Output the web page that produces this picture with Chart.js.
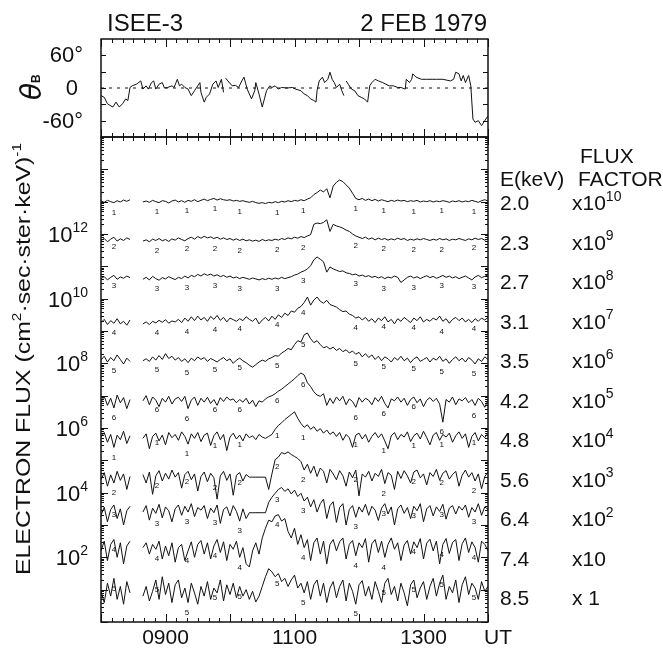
<!DOCTYPE html>
<html>
<head>
<meta charset="utf-8">
<title>ISEE-3 2 FEB 1979</title>
<script src="https://cdn.jsdelivr.net/npm/chart.js@4.4.0/dist/chart.umd.min.js"></script>
<style>
  html, body { margin: 0; padding: 0; background: #fff; }
  #wrap { position: relative; width: 663px; height: 650px; }
  #wrap canvas { position: absolute; left: 0; top: 0; }
</style>
</head>
<body>
<div id="wrap">
  <canvas id="thetaChart" width="663" height="650"></canvas>
  <canvas id="fluxChart" width="663" height="650"></canvas>
</div>
<script>
// time is in minutes after 0800 UT
const hourLabels = ['0900', '1100', '1300'];
const hourLabelMinutes = [60, 180, 300];

// field angle theta_B (deg)
const thetaMinutes = [0,3,6,11,14,17,20,23,25,27, 29,33,37,39,42,44,47,49,51,54,
  57,59,62,66,68,71,73,75,78,81, 84,87,90,92,93,96,98,101,104,107,
  109,112,114,115,116,118,122,125,128,131, 133,136,138,140,143,144,147,150,152,154,
  157,159,162,165,168,173,178,181,186,189, 192,195,198,200,201,203,206,208,211,213,
  215,217,219,222,224,226,227,228,230,233, 236,239,242,245,248,250,252,255,258,262,
  265,268,272,276,279,283,284,287,289,290, 293,298,303,308,312,318,325,328,330,333,
  335,337,339,342,344,346,348,351,354,358, 360];
const thetaValues = [-14,-17,-29,-35,-26,-35,-29,-20,-23,1, 4,7,13,-2,4,-2,10,13,-2,7,
  10,0,1,4,1,16,4,7,1,-2, -14,-5,4,10,-8,-26,-17,-11,7,13,
  1,16,-8,null,18,13,4,5,1,13, 20,-2,-11,-20,-5,10,-11,-35,-20,-5,
  4,1,4,-2,1,0,1,-2,-5,-11, -14,-20,-23,-26,-5,13,20,10,16,29,
  16,10,1,7,-5,-14,null,13,7,-2, -5,-14,-17,-20,-26,4,10,16,13,10,
  7,4,4,1,1,-2,16,10,16,26, 20,16,16,16,16,16,13,16,29,26,
  13,23,10,23,4,-57,-63,-60,-69,-57, -51];
const thetaTicks = [-60, 0, 60];

// electron flux, log10 of (flux x flux factor)
const fluxMinutes = [0,3,6,9,12,15,18,21,24,27,30,33,36,39,42,45,48,51,54,57,60,63,66,69,72,75,78,81,84,87,
  90,93,96,99,102,105,108,111,114,117,120,123,126,129,132,135,138,141,144,147,150,153,156,159,162,165,168,171,174,177,
  180,183,186,189,192,195,198,201,204,207,210,213,216,219,222,225,228,231,234,237,240,243,246,249,252,255,258,261,264,267,
  270,273,276,279,282,285,288,291,294,297,300,303,306,309,312,315,318,321,324,327,330,333,336,339,342,345,348,351,354,357,360];

const flux20 = [13.02,12.98,13.04,13.00,12.97,13.03,12.99,13.05,13.01,13.06, null,null,null,
  12.99,13.02,12.98,13.04,13.00,12.97,13.03,13.01,12.96,13.02,
  13.05,12.99,13.03,12.98,13.04,13.01,13.06,13.00,13.04,13.08,
  13.03,13.07,13.10,13.05,13.09,13.06,13.04,13.06,13.02,13.04,
  13.01,13.03,13.00,12.98,13.01,12.97,12.95,12.97,12.94,12.98,
  12.96,13.00,12.97,13.01,12.99,13.03,13.00,13.04,13.02,13.06,
  13.03,13.08,13.12,13.22,13.28,13.36,13.30,13.40,13.12,13.48,
  13.60,13.67,13.62,13.52,13.42,13.26,13.10,13.06,13.10,13.04,
  13.08,13.03,13.07,13.02,13.06,13.03,13.00,13.04,13.01,13.05,
  13.02,13.04,13.00,13.03,13.01,13.04,12.99,13.02,13.00,13.03,
  12.99,13.02,13.00,13.03,13.01,12.98,13.02,13.00,13.03,12.99,
  13.02,13.00,13.04,13.01,12.98,13.03,13.06,13.02];
const flux23 = [11.80,11.86,11.76,11.84,11.90,11.78,11.85,11.80,11.88,11.83, null,null,null,
  11.78,11.82,11.76,11.84,11.80,11.86,11.79,11.83,11.77,11.85,
  11.81,11.88,11.83,11.79,11.86,11.90,11.84,11.92,11.87,11.93,
  11.88,11.91,11.86,11.90,11.84,11.88,11.83,11.86,11.81,11.85,
  11.80,11.84,11.79,11.82,11.78,11.81,11.77,11.83,11.79,11.82,
  11.80,11.84,11.81,11.86,11.83,11.88,11.85,11.90,11.87,11.92,
  11.89,11.94,11.98,12.30,12.34,12.32,12.36,12.44,12.08,12.30,
  12.25,12.22,12.18,12.12,12.08,12.00,11.94,11.90,11.86,11.90,
  11.84,11.88,11.82,11.87,11.83,11.86,11.81,11.85,11.82,11.87,
  11.83,11.86,11.80,11.84,11.81,11.85,11.82,11.86,11.83,11.80,
  11.84,11.81,11.86,11.82,11.85,11.80,11.84,11.82,11.86,11.83,
  11.80,11.85,11.82,11.87,11.83,11.86,11.81,11.85];
const flux27 = [10.62,10.68,10.58,10.66,10.72,10.60,10.67,10.63,10.70,10.65, null,null,null,
  10.60,10.66,10.58,10.69,10.62,10.57,10.65,10.61,10.68,10.63,
  10.59,10.66,10.62,10.70,10.64,10.72,10.68,10.75,10.70,10.77,
  10.72,10.76,10.70,10.74,10.68,10.72,10.66,10.70,10.64,10.67,
  10.62,10.66,10.63,10.60,10.64,10.61,10.58,10.62,10.59,10.63,
  10.60,10.64,10.61,10.66,10.62,10.65,10.68,10.73,10.76,10.82,
  10.86,10.92,11.02,11.20,11.29,11.22,11.14,10.82,10.98,10.92,
  10.88,10.84,10.86,10.80,10.78,10.74,10.76,10.70,10.73,10.68,
  10.71,10.66,10.69,10.64,10.68,10.62,10.67,10.64,10.70,10.66,
  10.50,10.58,10.66,10.70,10.64,10.68,10.62,10.67,10.71,10.65,
  10.69,10.63,10.67,10.72,10.66,10.70,10.64,10.68,10.62,10.66,
  10.70,10.64,10.58,10.67,10.72,10.65,10.69,10.74];
const flux31 = [9.26,9.36,9.20,9.32,9.24,9.38,9.22,9.30,9.18,9.34, null,null,null,
  9.22,9.28,9.20,9.30,9.25,9.33,9.27,9.35,9.24,9.31,
  9.28,9.36,9.26,9.40,9.30,9.44,9.32,9.46,9.34,9.42,
  9.30,9.45,9.36,9.48,9.33,9.42,9.28,9.40,9.35,9.30,
  9.38,9.32,9.44,9.36,9.30,9.40,9.22,9.34,9.42,9.31,
  9.46,9.36,9.50,9.42,9.55,9.48,9.62,9.58,9.70,9.76,
  9.88,10.05,9.80,9.96,10.05,9.92,9.86,9.95,9.82,9.78,
  9.74,9.66,9.60,9.62,9.52,9.48,9.40,9.44,9.34,9.42,
  9.30,9.38,9.26,9.40,9.32,9.44,9.28,9.36,9.22,9.38,
  9.30,9.42,9.34,9.26,9.40,9.32,9.44,9.28,9.36,9.30,
  9.40,9.34,9.46,9.30,9.38,9.24,9.36,9.42,9.32,9.40,
  9.28,9.36,9.26,9.38,9.30,9.40,9.34,9.42];
const flux35 = [8.10,8.22,8.04,8.18,8.08,8.26,8.12,7.98,8.16,8.06, null,null,null,
  8.08,8.14,8.06,8.20,8.10,8.24,8.12,8.30,8.15,8.22,
  8.10,8.18,8.06,8.14,8.02,8.16,8.08,8.20,8.12,8.18,
  8.06,8.15,8.10,8.04,8.12,8.18,8.08,8.14,8.00,8.10,
  8.16,8.08,8.02,7.94,7.88,7.96,8.04,8.10,8.06,8.14,
  8.18,8.24,8.22,8.32,8.38,8.46,8.42,8.58,8.70,8.66,
  8.88,8.94,8.76,8.64,8.70,8.58,8.48,8.52,8.44,8.50,
  8.40,8.46,8.36,8.42,8.32,8.38,8.28,8.34,8.20,8.30,
  8.18,8.26,8.12,8.22,8.08,8.20,8.14,8.04,8.18,8.10,
  8.22,8.08,8.16,8.02,8.14,8.20,8.06,8.12,8.18,8.04,
  8.16,8.10,8.22,8.06,8.14,8.00,8.12,8.20,8.08,8.16,
  8.04,8.18,8.10,7.98,8.14,8.06,8.20,8.12];
const flux42 = [6.80,6.98,6.70,6.92,6.62,7.02,6.78,6.94,6.60,6.88, null,null,null,
  6.84,7.00,6.72,6.96,6.86,6.66,6.92,6.80,6.98,6.74,
  6.90,6.95,6.82,6.98,6.60,6.86,6.96,6.70,6.92,6.80,
  6.95,6.76,6.88,6.70,6.94,6.82,6.96,6.86,6.90,6.78,
  6.88,6.80,6.92,6.74,6.86,6.66,6.84,6.80,6.90,6.96,
  7.00,7.06,7.14,7.20,7.28,7.36,7.44,7.52,7.62,7.70,
  7.64,7.40,7.28,7.12,7.02,6.98,7.06,6.70,6.92,6.76,
  6.96,6.84,6.98,6.72,6.90,6.82,6.64,6.94,6.80,6.92,
  6.86,6.72,6.94,6.82,6.98,6.76,6.62,6.90,6.84,6.96,
  6.80,6.92,6.70,6.88,6.96,6.78,6.90,6.66,6.86,6.94,
  6.82,6.92,6.74,6.18,6.88,6.80,6.96,6.72,6.90,6.84,
  6.94,6.78,6.88,6.70,6.92,6.82,6.64,6.86];
const flux48 = [5.72,5.86,5.56,5.80,5.40,5.78,5.64,5.90,5.52,5.76, null,null,null,
  5.68,5.82,5.36,5.74,5.84,5.60,5.78,5.48,5.86,5.70,
  5.80,5.62,5.88,5.74,5.50,5.82,5.68,5.86,5.58,5.78,
  5.84,5.46,5.76,5.88,5.64,5.80,5.30,5.72,5.84,5.66,
  5.78,5.60,5.82,5.70,5.76,5.64,5.80,5.72,5.68,5.74,
  5.80,5.96,6.08,6.16,6.26,6.34,6.42,6.50,6.30,6.14,
  6.02,6.10,5.96,6.04,5.90,5.98,5.84,5.94,5.80,5.88,
  5.74,5.86,5.62,5.80,5.70,5.40,5.78,5.84,5.66,5.80,
  5.56,5.74,5.86,5.70,5.82,5.60,5.36,5.76,5.86,5.64,
  5.80,5.72,5.88,5.58,5.76,5.84,5.66,5.90,5.70,5.48,
  5.78,5.86,5.62,5.80,5.72,5.84,5.56,5.76,5.88,5.68,
  5.82,5.40,5.74,5.86,5.60,5.80,5.70,5.84];
const flux56 = [4.40,4.62,4.20,4.55,4.30,4.66,4.38,4.58,4.10,4.50, null,null,null,
  4.56,4.30,4.64,3.95,4.52,4.68,4.36,4.60,4.42,4.70,
  4.48,4.62,4.14,4.56,4.66,4.40,4.58,4.05,4.50,4.64,
  4.34,4.60,4.46,3.80,4.52,4.66,4.38,4.58,3.92,4.54,
  4.62,4.36,4.56,4.48,4.48,4.48,4.48,4.48,4.48,4.10,
  4.58,5.02,5.10,5.24,5.20,5.26,5.18,5.12,5.06,4.96,
  4.70,4.88,4.60,4.82,4.50,4.76,4.66,4.30,4.72,4.58,
  4.40,4.68,4.52,4.20,4.64,4.46,4.70,3.90,4.58,4.48,
  4.66,4.36,4.60,4.50,4.72,4.28,4.62,4.54,4.10,4.66,
  4.44,4.68,4.52,4.30,4.64,4.70,4.46,4.58,4.24,4.62,
  4.50,4.72,4.38,4.60,4.68,4.42,4.56,4.66,4.20,4.54,
  4.70,4.48,4.62,4.36,4.58,4.12,4.50,4.64];
const flux64 = [3.30,3.55,3.10,3.48,3.62,3.20,3.50,3.00,3.44,3.58, null,null,null,
  3.40,3.60,3.15,3.52,3.36,3.64,3.22,3.56,3.44,3.10,
  3.50,3.62,3.30,3.58,3.40,3.66,3.26,3.54,3.46,3.60,
  3.20,3.52,3.38,3.62,3.05,3.48,3.56,3.28,3.60,3.42,
  3.12,3.50,3.20,3.38,3.38,3.38,3.38,3.38,3.38,3.70,
  3.86,3.98,4.10,4.16,4.04,4.12,3.96,4.08,3.88,3.98,
  3.74,3.86,3.56,3.78,3.40,3.66,3.80,3.20,3.60,3.72,
  3.08,3.54,3.66,3.00,3.48,3.60,3.24,3.56,3.40,3.64,
  3.30,3.58,3.46,3.14,3.52,3.66,3.34,3.56,3.00,3.50,
  3.62,3.36,3.54,3.20,3.58,3.44,3.66,3.10,3.50,3.60,
  3.28,3.56,3.42,3.64,3.18,3.52,3.60,3.34,3.58,3.46,
  3.62,3.24,3.54,3.40,3.66,3.30,3.56,3.48];
const flux74 = [2.20,2.50,1.90,2.40,2.55,2.00,2.45,1.80,2.35,2.50, null,null,null,
  2.30,2.45,2.10,2.40,2.25,2.50,1.95,2.35,2.05,2.45,
  1.85,2.30,2.40,1.90,2.20,2.48,2.00,2.40,2.52,2.10,
  2.45,1.95,2.35,2.55,2.15,2.48,1.90,2.40,2.25,2.50,
  2.00,2.30,1.80,1.70,2.20,2.45,2.10,2.60,2.90,3.15,
  3.10,3.28,3.32,3.12,3.20,2.80,2.60,2.90,2.40,2.70,
  2.30,2.55,1.90,2.45,2.60,2.10,2.50,1.80,2.40,2.55,
  2.20,2.48,2.60,1.95,2.40,2.52,2.05,2.45,2.30,2.58,
  1.85,2.42,2.55,2.15,2.50,2.00,2.40,2.60,2.25,2.45,
  1.90,2.38,2.52,2.10,2.48,2.30,2.58,1.95,2.44,2.56,
  2.20,2.50,1.80,2.40,2.58,2.12,2.46,2.55,1.90,2.42,
  2.60,2.15,2.48,2.30,1.85,2.50,2.40,2.20];
const flux85 = [0.95,0.60,1.20,0.80,1.35,0.70,1.10,0.55,1.25,0.90, null,null,null,
  0.80,1.10,0.65,0.95,1.30,0.70,1.40,0.85,1.20,0.60,
  1.15,1.30,0.75,1.05,0.60,1.20,0.90,0.55,1.10,0.80,
  1.25,0.70,1.05,0.90,1.30,0.65,1.15,0.85,1.20,0.75,
  1.10,0.80,1.00,0.70,0.95,0.62,0.80,1.10,1.40,1.65,
  1.55,1.40,1.50,1.25,1.35,1.10,1.30,1.45,1.05,1.20,
  0.90,1.25,0.70,1.15,1.30,0.80,1.20,0.60,1.05,1.25,
  0.75,1.10,1.30,0.65,1.20,0.95,0.55,1.15,1.28,0.80,
  1.10,0.70,1.25,0.95,0.60,1.20,1.35,0.85,1.10,0.65,
  1.20,0.90,0.50,1.15,1.30,0.75,1.05,1.25,0.70,1.10,
  1.35,0.80,1.20,1.45,0.70,1.10,0.90,1.30,0.60,1.15,
  1.40,0.85,1.20,1.05,0.70,1.25,0.95,1.10];

const channels = [flux20, flux23, flux27, flux31, flux35, flux42, flux48, flux56, flux64, flux74, flux85];
const energies = ['2.0', '2.3', '2.7', '3.1', '3.5', '4.2', '4.8', '5.6', '6.4', '7.4', '8.5'];
const factorExponents = ['10', '9', '8', '7', '6', '5', '4', '3', '2', '', ''];
const factorBases = ['x10', 'x10', 'x10', 'x10', 'x10', 'x10', 'x10', 'x10', 'x10', 'x10', 'x 1'];
const curveTags = ['1', '2', '3', '4', '5', '6', '1', '2', '3', '4', '5'];
const tagMinutes = [12, 52, 80, 106, 129, 164, 188, 237, 263, 291, 317, 347];
const decadeLabels = [2, 4, 6, 8, 10, 12];

const FONT = '"Liberation Sans", "DejaVu Sans", Arial, sans-serif';
const INK = '#111';

function withSup(ctx, base, sup, x, y, align, size, supSize) {
  ctx.font = size + 'px ' + FONT;
  const wb = ctx.measureText(base).width;
  ctx.font = supSize + 'px ' + FONT;
  const ws = sup ? ctx.measureText(sup).width : 0;
  const x0 = align === 'right' ? x - wb - ws : x;
  ctx.textAlign = 'left';
  ctx.textBaseline = 'alphabetic';
  ctx.font = size + 'px ' + FONT;
  ctx.fillText(base, x0, y);
  if (sup) {
    ctx.font = supSize + 'px ' + FONT;
    ctx.fillText(sup, x0 + wb, y - size * 0.45);
  }
}

function timeTicks(ctx, x, a) {
  for (let m = 0; m <= 360; m += 10) {
    const px = Math.round(x.getPixelForValue(m)) + 0.5;
    const len = m % 60 === 0 ? 8 : 4;
    ctx.moveTo(px, a.top); ctx.lineTo(px, a.top + len);
    ctx.moveTo(px, a.bottom); ctx.lineTo(px, a.bottom - len);
  }
}

// top panel frame, ticks and labels
const thetaFrame = {
  id: 'thetaFrame',
  afterDraw(chart) {
    const {ctx, chartArea: a, scales: {x, y}} = chart;
    ctx.save();
    ctx.strokeStyle = INK; ctx.fillStyle = INK;
    ctx.lineWidth = 1.5;
    ctx.strokeRect(a.left, a.top, a.right - a.left, a.bottom - a.top);
    ctx.lineWidth = 1;
    ctx.beginPath();
    timeTicks(ctx, x, a);
    for (let d = -60; d <= 60; d += 30) {
      const py = Math.round(y.getPixelForValue(d)) + 0.5;
      ctx.moveTo(a.left, py); ctx.lineTo(a.left + 5, py);
      ctx.moveTo(a.right, py); ctx.lineTo(a.right - 5, py);
    }
    ctx.stroke();

    ctx.textBaseline = 'middle';
    ctx.font = '22px ' + FONT;
    thetaTicks.forEach(v => {
      const py = y.getPixelForValue(v) + 1;
      ctx.textAlign = 'right';
      if (v === 0) ctx.fillText('0', 78, py);
      else ctx.fillText(v + '\u00B0', 83, py);
    });

    // rotated theta_B label
    ctx.save();
    ctx.translate(41, 100);
    ctx.rotate(-Math.PI / 2);
    ctx.textAlign = 'left';
    ctx.textBaseline = 'alphabetic';
    ctx.font = 'italic 28px "DejaVu Sans", sans-serif';
    ctx.fillText('\u03B8', 0, 0);
    ctx.font = 'bold 12px ' + FONT;
    ctx.fillText('B', 17, -1);
    ctx.restore();

    // titles
    ctx.textBaseline = 'alphabetic';
    ctx.font = '24px ' + FONT;
    ctx.textAlign = 'left';
    ctx.fillText('ISEE-3', 107, 31);
    ctx.textAlign = 'right';
    ctx.fillText('2 FEB 1979', 487, 31);
    ctx.restore();
  }
};

// bottom panel frame, ticks and labels
const fluxFrame = {
  id: 'fluxFrame',
  afterDraw(chart) {
    const {ctx, chartArea: a, scales: {x, y}} = chart;
    ctx.save();
    ctx.strokeStyle = INK; ctx.fillStyle = INK;
    ctx.lineWidth = 1.5;
    ctx.strokeRect(a.left, a.top, a.right - a.left, a.bottom - a.top);
    ctx.lineWidth = 1;
    ctx.beginPath();
    timeTicks(ctx, x, a);
    for (let d = 0; d < 15; d++) {
      for (let k = 1; k <= 9; k++) {
        const py = Math.round(y.getPixelForValue(k * Math.pow(10, d))) + 0.5;
        const len = k === 1 ? 7 : 3;
        ctx.moveTo(a.left, py); ctx.lineTo(a.left + len, py);
        ctx.moveTo(a.right, py); ctx.lineTo(a.right - len, py);
      }
    }
    ctx.stroke();

    // y tick labels 10^n
    decadeLabels.forEach(n => {
      const py = y.getPixelForValue(Math.pow(10, n));
      withSup(ctx, '10', String(n), 88, py + 8, 'right', 22, 14);
    });

    // x tick labels
    ctx.font = '21px ' + FONT;
    ctx.textAlign = 'center';
    ctx.textBaseline = 'alphabetic';
    hourLabels.forEach((t, i) => {
      ctx.fillText(t, x.getPixelForValue(hourLabelMinutes[i]), 644);
    });
    ctx.textAlign = 'left';
    ctx.fillText('UT', 484, 644);

    // curve tags along each trace
    ctx.font = '8px ' + FONT;
    ctx.textAlign = 'center';
    ctx.textBaseline = 'top';
    channels.forEach((vals, c) => {
      tagMinutes.forEach(m => {
        const v = vals[Math.round(m / 3)];
        if (v === null) return;
        ctx.fillText(curveTags[c], x.getPixelForValue(m), y.getPixelForValue(Math.pow(10, v)) + 6);
      });
    });

    // right-hand table
    ctx.textBaseline = 'alphabetic';
    ctx.font = '21px ' + FONT;
    ctx.textAlign = 'left';
    ctx.fillText('FLUX', 580, 163);
    ctx.fillText('FACTOR', 578, 186);
    ctx.fillText('E(keV)', 500, 186);
    energies.forEach((e, i) => {
      const rowY = 202 + i * 39.5;
      ctx.font = '21px ' + FONT;
      ctx.textAlign = 'left';
      ctx.fillText(e, 500, rowY + 8);
      withSup(ctx, factorBases[i], factorExponents[i], 572, rowY + 8, 'left', 21, 14);
    });

    // rotated axis title
    ctx.save();
    ctx.translate(30, 575);
    ctx.rotate(-Math.PI / 2);
    const parts = [['ELECTRON FLUX (cm', 0], ['2', 1], ['\u00B7sec\u00B7ster\u00B7keV)', 0], ['-1', 1]];
    let total = 0;
    parts.forEach(p => {
      ctx.font = (p[1] ? 13 : 21) + 'px ' + FONT;
      total += ctx.measureText(p[0]).width;
    });
    ctx.scale(432 / total, 1);
    let cx = 0;
    ctx.textAlign = 'left';
    ctx.textBaseline = 'alphabetic';
    parts.forEach(p => {
      ctx.font = (p[1] ? 13 : 21) + 'px ' + FONT;
      ctx.fillText(p[0], cx, p[1] ? -9 : 0);
      cx += ctx.measureText(p[0]).width;
    });
    ctx.restore();
    ctx.restore();
  }
};

const lineStyle = {borderColor: INK, borderWidth: 1, pointRadius: 0, tension: 0, fill: false, spanGaps: false};

new Chart(document.getElementById('thetaChart'), {
  type: 'line',
  data: {
    datasets: [
      Object.assign({data: thetaMinutes.map((m, i) => ({x: m, y: thetaValues[i]}))}, lineStyle),
      Object.assign({data: [{x: 0, y: 0}, {x: 360, y: 0}]}, lineStyle, {borderDash: [3, 5], borderWidth: 1})
    ]
  },
  options: {
    responsive: false,
    animation: false,
    events: [],
    layout: {padding: {left: 101, right: 175, top: 39, bottom: 513}},
    plugins: {legend: {display: false}, tooltip: {enabled: false}},
    scales: {
      x: {type: 'linear', min: 0, max: 360, display: false},
      y: {type: 'linear', min: -90, max: 90, display: false}
    }
  },
  plugins: [thetaFrame]
});

new Chart(document.getElementById('fluxChart'), {
  type: 'line',
  data: {
    datasets: channels.map((vals, c) => Object.assign({
      label: energies[c] + ' keV',
      data: fluxMinutes.map((m, i) => ({x: m, y: vals[i] === null ? null : Math.pow(10, vals[i])}))
    }, lineStyle))
  },
  options: {
    responsive: false,
    animation: false,
    events: [],
    layout: {padding: {left: 101, right: 175, top: 137, bottom: 28}},
    plugins: {legend: {display: false}, tooltip: {enabled: false}},
    scales: {
      x: {type: 'linear', min: 0, max: 360, display: false},
      y: {type: 'logarithmic', min: 1, max: 1e15, display: false}
    }
  },
  plugins: [fluxFrame]
});
</script>
</body>
</html>
